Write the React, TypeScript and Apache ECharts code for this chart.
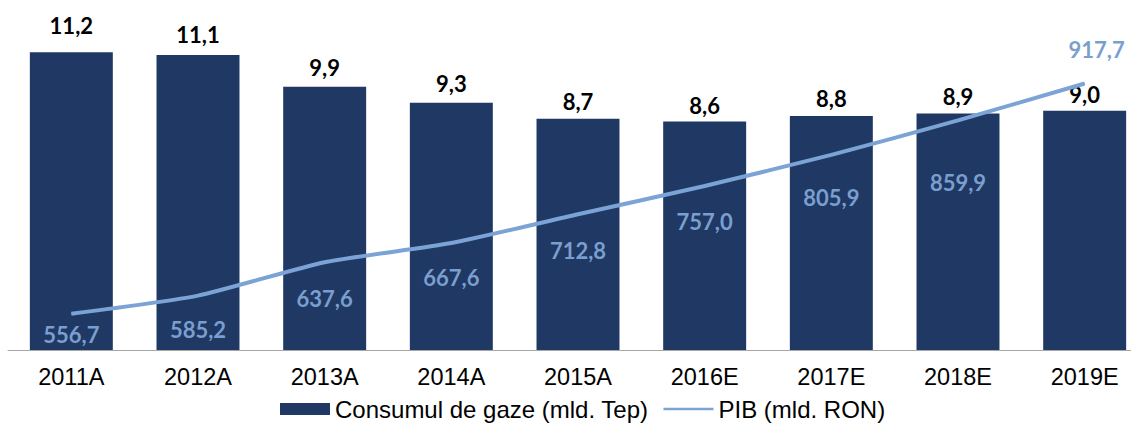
import React, { useEffect, useRef } from "react";
import * as echarts from "echarts";

const categories = ["2011A", "2012A", "2013A", "2014A", "2015A", "2016E", "2017E", "2018E", "2019E"];
const gasConsumption = [11.2, 11.1, 9.9, 9.3, 8.7, 8.6, 8.8, 8.9, 9.0];
const gdp = [556.7, 585.2, 637.6, 667.6, 712.8, 757.0, 805.9, 859.9, 917.7];
const seriesNames = ["Consumul de gaze (mld. Tep)", "PIB (mld. RON)"];

// label placement (style only)
const gasLabelOffsets: [number, number][] = [
  [0, -10], [0, -3], [0, -2], [0, -2], [0, 0], [0, 1], [0, -1], [0, 0], [0, 1],
];
const gdpLabelOffsets: [number, number][] = [
  [0, 21], [0, 34], [0, 36], [0, 34], [0, 36], [0, 35], [0, 43], [0, 62], [12, -34],
];

const BAR_COLOR = "#203864";
const LINE_COLOR = "#7BA3D5";
const LINE_LABEL_COLOR = "#7A9FCF";

const fmt = (v: number) => v.toFixed(1).replace(".", ",");

export default function App() {
  const ref = useRef<HTMLDivElement>(null);
  useEffect(() => {
    document.body.style.margin = "0";
    if (!ref.current) return;
    const chart = echarts.init(ref.current, undefined, { renderer: "svg" });
    chart.setOption({
      animation: false,
      backgroundColor: "#ffffff",
      grid: {
        left: 8,
        top: 31,
        width: 1140,
        height: 319,
        containLabel: false,
        outerBoundsMode: "none",
      },
      legend: {
        left: 280,
        top: 397,
        padding: 0,
        itemWidth: 50,
        itemHeight: 12,
        itemGap: 15,
        textStyle: { fontFamily: "Liberation Sans, Arial, sans-serif", fontSize: 24, color: "#000" },
        data: [
          { name: seriesNames[0], icon: "rect", itemStyle: { color: BAR_COLOR } },
          {
            name: seriesNames[1],
            icon: "path://M0,0H55V3H0Z",
            itemStyle: { color: LINE_COLOR, borderWidth: 0 },
          },
        ],
      },
      xAxis: {
        type: "category",
        data: categories,
        axisLine: { show: true, lineStyle: { color: "#A6A6A6", width: 1 } },
        axisTick: { show: false },
        axisLabel: {
          margin: 15,
          fontFamily: "Liberation Sans, Arial, sans-serif",
          fontSize: 23.5,
          color: "#000",
        },
      },
      yAxis: [
        { type: "value", min: 0, max: 12, show: false, splitLine: { show: false } },
        { type: "value", min: 500, max: 1000, show: false, splitLine: { show: false } },
      ],
      series: [
        {
          name: seriesNames[0],
          type: "bar",
          data: gasConsumption.map((v, i) => ({
            value: v,
            label: { offset: gasLabelOffsets[i] },
          })),
          barWidth: "65.5%",
          itemStyle: { color: BAR_COLOR },
          label: {
            show: true,
            position: "top",
            distance: 6,
            formatter: (p: any) => fmt(p.value),
            fontFamily: "Lato, Carlito, sans-serif",
            fontWeight: "bold",
            fontSize: 22,
            color: "#000",
          },
          z: 2,
        },
        {
          name: seriesNames[1],
          type: "line",
          yAxisIndex: 1,
          smooth: 0.2,
          symbol: "circle",
          symbolSize: 1,
          showSymbol: true,
          lineStyle: { color: LINE_COLOR, width: 4 },
          itemStyle: { color: LINE_COLOR, borderWidth: 0 },
          data: gdp.map((v, i) => ({
            value: v,
            label: { offset: gdpLabelOffsets[i] },
          })),
          label: {
            show: true,
            position: "inside",
            formatter: (p: any) => fmt(p.value),
            fontFamily: "Lato, Carlito, sans-serif",
            fontWeight: "bold",
            fontSize: 22,
            color: LINE_LABEL_COLOR,
          },
          z: 3,
        },
      ],
    });
    return () => chart.dispose();
  }, []);
  return <div ref={ref} style={{ width: 1131, height: 428 }} />;
}
